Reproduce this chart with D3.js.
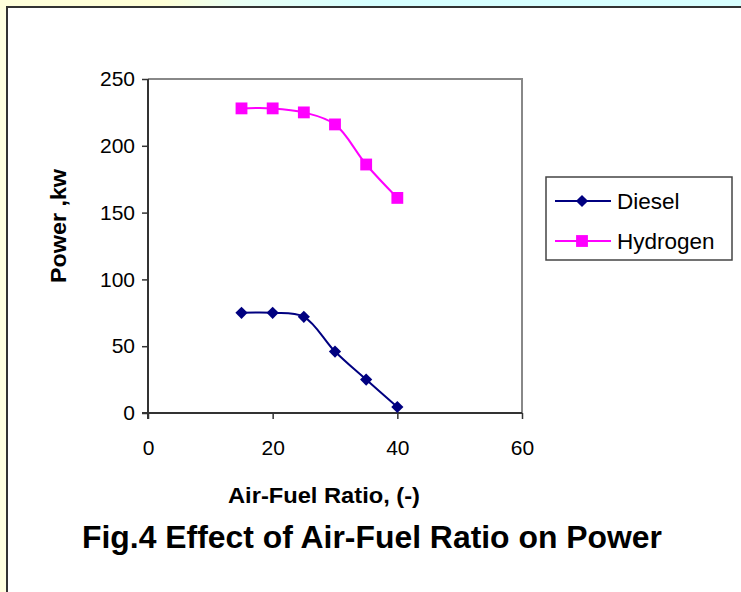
<!DOCTYPE html>
<html>
<head>
<meta charset="utf-8">
<script src="https://cdn.jsdelivr.net/npm/d3@7"></script>
<style>
  html, body { margin: 0; padding: 0; background: #fff; }
  svg { display: block; }
  text { font-family: "Liberation Sans", Arial, sans-serif; }
</style>
</head>
<body>
<svg id="chart" width="741" height="592"></svg>
<script>
// ---- data ----
const airFuelRatio = [15, 20, 25, 30, 35, 40];
const dieselPower = [75, 75, 72, 46, 25, 4.5];
const hydrogenPower = [228, 228, 225, 216, 186, 161];
const seriesNames = ["Diesel", "Hydrogen"];
const xTicks = [0, 20, 40, 60];
const yTicks = [0, 50, 100, 150, 200, 250];
const chartTitle = "Fig.4 Effect of Air-Fuel Ratio on Power";
const xTitle = "Air-Fuel Ratio, (-)";
const yTitle = "Power ,kw";

const W = 741, H = 592;
const svg = d3.select("#chart");

// background (slide-like gradient edges)
const defs = svg.append("defs");
const gTop = defs.append("linearGradient").attr("id", "topGrad").attr("x1", "0").attr("x2", "1").attr("y1", "0").attr("y2", "0");
gTop.append("stop").attr("offset", "0").attr("stop-color", "#ffffdc");
gTop.append("stop").attr("offset", "0.22").attr("stop-color", "#ffffd6");
gTop.append("stop").attr("offset", "0.32").attr("stop-color", "#eafff4");
gTop.append("stop").attr("offset", "0.5").attr("stop-color", "#d6ffff");
gTop.append("stop").attr("offset", "1").attr("stop-color", "#d8ffff");
svg.append("rect").attr("x", 0).attr("y", 0).attr("width", W).attr("height", H).attr("fill", "#ffffe0");
svg.append("rect").attr("x", 0).attr("y", 0).attr("width", W).attr("height", 8).attr("fill", "url(#topGrad)");

// chart frame
svg.append("rect").attr("x", 7).attr("y", 7).attr("width", W + 10).attr("height", H + 10)
  .attr("fill", "#fff").attr("stroke", "#333").attr("stroke-width", 2);

const plot = { left: 148, right: 522, top: 79, bottom: 413 };
const x = d3.scaleLinear().domain([0, 60]).range([plot.left, plot.right]);
const y = d3.scaleLinear().domain([0, 250]).range([plot.bottom, plot.top]);

// plot area border (top/right gray)
svg.append("path")
  .attr("d", `M${plot.left},${plot.top}H${plot.right}V${plot.bottom}`)
  .attr("fill", "none").attr("stroke", "#888").attr("stroke-width", 2);

// axes
const fontTick = 21;
const yAxis = svg.append("g").attr("transform", `translate(${plot.left},0)`)
  .call(d3.axisLeft(y).tickValues(yTicks).tickSize(6).tickPadding(7).tickFormat(d3.format("d")));
const xAxis = svg.append("g").attr("transform", `translate(0,${plot.bottom})`)
  .call(d3.axisBottom(x).tickValues(xTicks).tickSize(6).tickPadding(21).tickFormat(d3.format("d")));
[yAxis, xAxis].forEach(a => {
  a.select(".domain").attr("stroke", "#333").attr("stroke-width", 2);
  a.selectAll(".tick line").attr("stroke", "#333").attr("stroke-width", 1.5);
  a.selectAll(".tick text").attr("fill", "#000").attr("font-size", fontTick)
    .style("font-family", '"Liberation Sans", Arial, sans-serif');
});
yAxis.select(".domain").attr("d", `M0,${plot.top}V${plot.bottom + 6}`);
xAxis.select(".domain").attr("d", `M${plot.left - 6},0H${plot.right}`);

// series
const colors = ["#000080", "#ff00ff"];
const seriesData = [dieselPower, hydrogenPower];
const line = d3.line().x(d => x(d[0])).y(d => y(d[1])).curve(d3.curveCatmullRom.alpha(0.5));
const diamond = d3.symbol().type(d3.symbolDiamond2).size(95);
const square = d3.symbol().type(d3.symbolSquare).size(140);
const symbols = [diamond, square];

seriesData.forEach((vals, i) => {
  const pts = airFuelRatio.map((a, j) => [a, vals[j]]);
  svg.append("path").datum(pts).attr("d", line)
    .attr("fill", "none").attr("stroke", colors[i]).attr("stroke-width", 2);
  svg.append("g").selectAll("path").data(pts).join("path")
    .attr("transform", d => `translate(${x(d[0])},${y(d[1])})`)
    .attr("d", symbols[i]).attr("fill", colors[i]);
});

// legend
const lg = svg.append("g");
lg.append("rect").attr("x", 546).attr("y", 177).attr("width", 186).attr("height", 83)
  .attr("fill", "#fff").attr("stroke", "#444").attr("stroke-width", 1.5);
seriesNames.forEach((name, i) => {
  const cy = 201 + i * 40;
  lg.append("line").attr("x1", 555).attr("x2", 611).attr("y1", cy).attr("y2", cy)
    .attr("stroke", colors[i]).attr("stroke-width", 2);
  lg.append("path").attr("transform", `translate(582,${cy})`).attr("d", symbols[i]).attr("fill", colors[i]);
  lg.append("text").attr("x", 617).attr("y", cy + 7.5).attr("font-size", 22.5).attr("fill", "#000").text(name);
});

// titles
svg.append("text").attr("x", 324).attr("y", 503).attr("text-anchor", "middle")
  .attr("font-size", 22).attr("font-weight", "bold").attr("textLength", 192).attr("lengthAdjust", "spacingAndGlyphs")
  .text(xTitle);
svg.append("text").attr("transform", "translate(66,226) rotate(-90)").attr("text-anchor", "middle")
  .attr("font-size", 22).attr("font-weight", "bold").attr("textLength", 114).attr("lengthAdjust", "spacingAndGlyphs")
  .text(yTitle);
svg.append("text").attr("x", 372).attr("y", 548).attr("text-anchor", "middle")
  .attr("font-size", 31).attr("font-weight", "bold").attr("textLength", 580).attr("lengthAdjust", "spacingAndGlyphs")
  .text(chartTitle);
</script>
</body>
</html>
